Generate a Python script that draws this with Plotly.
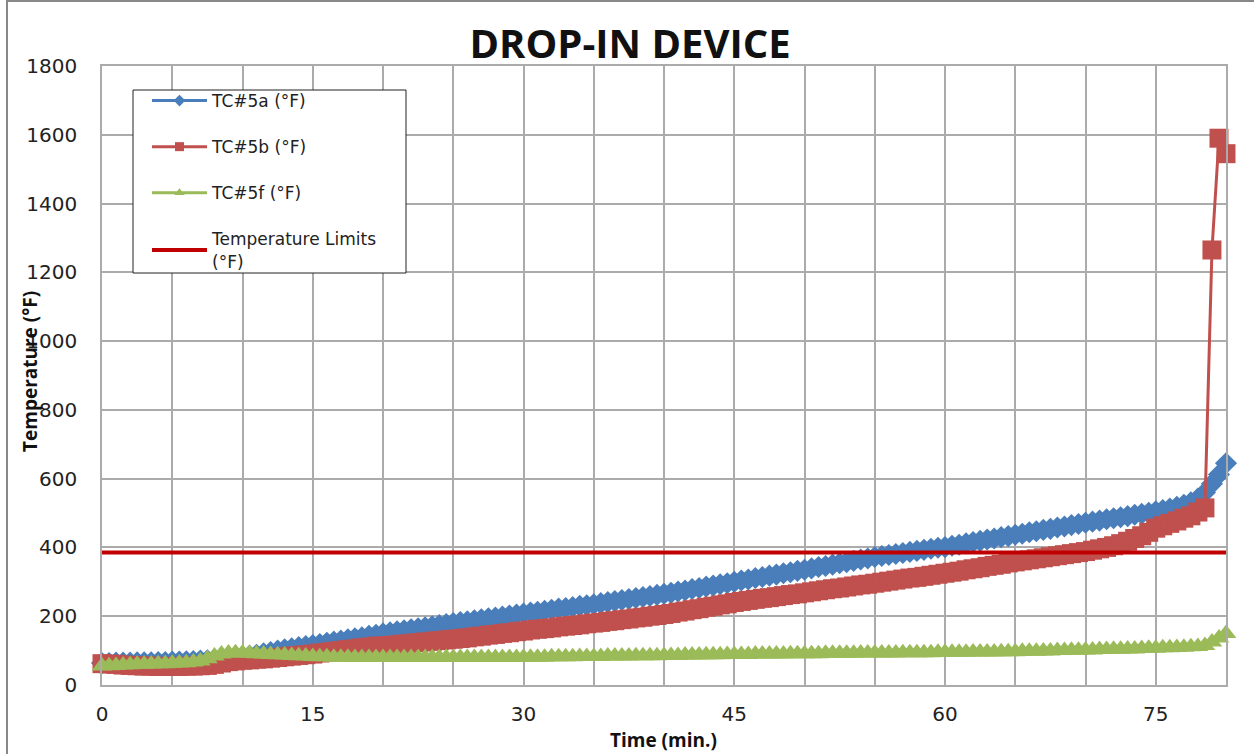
import plotly.graph_objects as go

# Time axis (minutes), one reading every 0.5 min
time_min = [i * 0.5 for i in range(161)]

tc5a = [
    64, 64, 65, 65, 65, 66, 66, 66, 67, 67,
    68, 68, 69, 70, 71, 72, 74, 76, 78, 80,
    82, 85, 88, 92, 96, 100, 104, 107, 110, 113,
    116, 119, 123, 126, 129, 133, 136, 139, 143, 146,
    150, 153, 156, 159, 162, 165, 168, 171, 174, 177,
    180, 183, 185, 188, 191, 194, 196, 199, 202, 205,
    208, 211, 213, 216, 219, 222, 224, 227, 230, 232,
    235, 238, 241, 244, 247, 250, 253, 256, 259, 262,
    265, 268, 272, 275, 279, 282, 286, 289, 293, 296,
    300, 304, 307, 311, 314, 318, 321, 325, 328, 332,
    335, 339, 343, 346, 350, 354, 357, 361, 365, 368,
    372, 375, 378, 381, 384, 387, 390, 393, 396, 399,
    401, 405, 408, 412, 416, 419, 423, 426, 430, 433,
    437, 440, 444, 447, 451, 454, 458, 461, 465, 468,
    472, 475, 478, 482, 485, 488, 491, 495, 498, 501,
    505, 509, 513, 518, 524, 531, 542, 560, 585, 612,
    645,
]

tc5b = [
    62, 61, 60, 58, 57, 56, 55, 55, 54, 54,
    54, 54, 55, 55, 56, 57, 60, 64, 68, 70,
    72, 73, 75, 76, 78, 80, 82, 84, 86, 88,
    90, 93, 95, 98, 100, 103, 105, 108, 110, 113,
    113, 115, 117, 119, 121, 123, 125, 127, 129, 131,
    133, 135, 137, 140, 142, 145, 147, 150, 152, 155,
    157, 160, 162, 164, 166, 169, 171, 173, 175, 178,
    180, 182, 185, 187, 190, 192, 195, 197, 200, 202,
    205, 208, 212, 215, 219, 222, 226, 229, 233, 236,
    240, 243, 246, 249, 252, 254, 257, 260, 263, 265,
    268, 271, 274, 277, 280, 282, 285, 288, 291, 293,
    296, 299, 302, 305, 308, 311, 313, 316, 319, 322,
    325, 328, 331, 335, 338, 341, 345, 348, 351, 355,
    358, 361, 364, 367, 370, 373, 376, 379, 382, 385,
    388, 392, 396, 400, 405, 411, 418, 426, 434, 444,
    456, 463, 470, 477, 485, 492, 503, 515, 1265, 1590,
    1545,
]

tc5f = [
    55, 56, 57, 58, 59, 60, 60, 61, 62, 62,
    63, 64, 65, 67, 70, 76, 84, 90, 93, 94,
    93, 92, 91, 90, 89, 88, 87, 86, 85, 84,
    83, 82, 82, 81, 81, 81, 80, 80, 80, 80,
    80, 80, 80, 80, 80, 80, 80, 80, 80, 80,
    80, 80, 80, 80, 80, 80, 80, 80, 80, 80,
    81, 81, 81, 81, 82, 82, 82, 82, 83, 83,
    83, 83, 84, 84, 84, 84, 85, 85, 85, 85,
    86, 86, 86, 87, 87, 87, 88, 88, 88, 89,
    89, 89, 89, 90, 90, 90, 90, 90, 91, 91,
    91, 91, 91, 92, 92, 92, 92, 92, 93, 93,
    93, 93, 93, 93, 94, 94, 94, 94, 94, 95,
    95, 95, 95, 95, 96, 96, 96, 96, 97, 97,
    97, 98, 98, 98, 99, 99, 100, 100, 101, 101,
    102, 102, 103, 103, 104, 104, 105, 105, 106, 107,
    107, 108, 108, 109, 110, 111, 112, 115, 125, 137,
    150,
]

limit_time = [0, 80]
limit_temp = [385, 385]

series_names = ["TC#5a (°F)", "TC#5b (°F)", "TC#5f (°F)", "Temperature Limits<br>(°F)"]
x_ticks = [0, 15, 30, 45, 60, 75]

BLUE = "#4A7EBB"
RED = "#C0504D"
GREEN = "#9BBB59"
LIMIT = "#C00000"
GRID = "#ABABAB"
FONT = "DejaVu Sans"

W, H = 1254, 754
L, R, T, B = 102, 1226, 66, 685  # plot-area pixel edges
PW, PH = R - L, B - T


def px(xp):
    return (xp - L) / PW


def py(yp):
    return (B - yp) / PH


fig = go.Figure()

fig.add_trace(go.Scatter(
    x=time_min, y=tc5a, mode="lines+markers", showlegend=False,
    line=dict(color=BLUE, width=3),
    marker=dict(symbol="diamond", size=17, color=BLUE),
    cliponaxis=False,
))
fig.add_trace(go.Scatter(
    x=time_min, y=tc5b, mode="lines+markers", showlegend=False,
    line=dict(color=RED, width=3),
    marker=dict(symbol="square", size=19, color=RED),
    cliponaxis=False,
))
fig.add_trace(go.Scatter(
    x=time_min, y=tc5f, mode="lines+markers", showlegend=False,
    line=dict(color=GREEN, width=3),
    marker=dict(symbol="triangle-up", size=18, color=GREEN),
    cliponaxis=False,
))
fig.add_trace(go.Scatter(
    x=limit_time, y=limit_temp, mode="lines", showlegend=False,
    line=dict(color=LIMIT, width=4),
    cliponaxis=False,
))

# Legend-only entries (small markers like the reference legend)
legend_specs = [
    (series_names[0], BLUE, "diamond", 9),
    (series_names[1], RED, "square", 9),
    (series_names[2], GREEN, "triangle-up", 9),
]
for i, (nm, col, sym, sz) in enumerate(legend_specs):
    fig.add_trace(go.Scatter(
        x=[None], y=[None], mode="lines+markers", name=nm,
        line=dict(color=col, width=3), marker=dict(symbol=sym, size=sz, color=col),
        legendgroup=f"g{i}",
    ))
fig.add_trace(go.Scatter(
    x=[None], y=[None], mode="lines", name=series_names[3],
    line=dict(color=LIMIT, width=4), legendgroup="g3",
))

fig.update_layout(
    width=W, height=H,
    margin=dict(l=L, r=W - R, t=T, b=H - B, autoexpand=False),
    paper_bgcolor="white", plot_bgcolor="white",
    font=dict(family=FONT, color="#222222"),
    title=dict(
        text="<b>DROP-IN DEVICE</b>",
        font=dict(family="Open Sans", size=40, color="#111111"),
        x=630 / W, xanchor="center", y=1 - 44 / H, yanchor="middle",
    ),
    legend=dict(
        x=px(147), y=py(83), xanchor="left", yanchor="top",
        bgcolor="rgba(0,0,0,0)", borderwidth=0,
        font=dict(family=FONT, size=17, color="#222222"),
        tracegroupgap=21, itemwidth=55,
    ),
    showlegend=True,
)

fig.update_xaxes(
    range=[0, 80], tickmode="array", tickvals=x_ticks,
    showgrid=True, gridcolor=GRID, gridwidth=1.5,
    minor=dict(dtick=5, tick0=0, showgrid=True, gridcolor=GRID, gridwidth=1.5),
    showline=True, linecolor=GRID, linewidth=1.5, mirror=True,
    zeroline=False, ticks="",
    tickfont=dict(family=FONT, size=20, color="#222222"),
    ticklabelstandoff=10,
)
fig.update_yaxes(
    range=[0, 1800], dtick=200, tick0=0,
    showgrid=True, gridcolor=GRID, gridwidth=1.5,
    showline=True, linecolor=GRID, linewidth=1.5, mirror=True,
    zeroline=False, ticks="",
    tickfont=dict(family=FONT, size=20, color="#222222"),
    ticklabelstandoff=19,
)

fig.add_annotation(
    text="<b>Time (min.)</b>", xref="paper", yref="paper",
    x=px(663), y=py(740), xanchor="center", yanchor="middle",
    showarrow=False, font=dict(family="Open Sans", size=19, color="#111111"),
)
fig.add_annotation(
    text="<b>Temperature (°F)</b>", xref="paper", yref="paper",
    x=px(30), y=py(372), xanchor="center", yanchor="middle",
    textangle=-90, showarrow=False, font=dict(family="Open Sans", size=19, color="#111111"),
)

# Legend frame
fig.add_shape(type="rect", xref="paper", yref="paper",
              x0=px(133), x1=px(406), y0=py(90), y1=py(273),
              line=dict(color="#222222", width=1), fillcolor="white", layer="above")
# Chart-area border (top and left edges visible in the reference)
fig.add_shape(type="line", xref="paper", yref="paper",
              x0=px(7), x1=px(W), y0=py(1), y1=py(1),
              line=dict(color="#888888", width=2))
fig.add_shape(type="line", xref="paper", yref="paper",
              x0=px(7), x1=px(7), y0=py(0), y1=py(H),
              line=dict(color="#888888", width=2))

fig.write_html("out.html", config={"displayModeBar": False},
               post_script="document.body.style.margin='0px';")
